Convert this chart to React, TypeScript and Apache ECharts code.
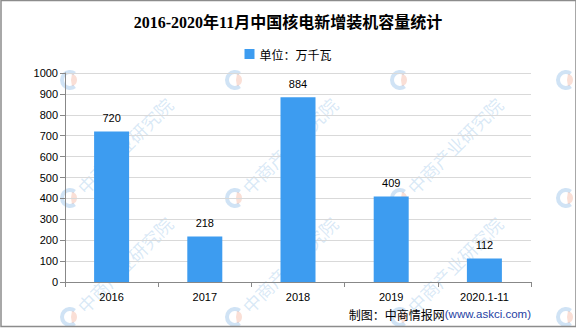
import React, { useEffect, useRef } from "react";
import * as echarts from "echarts";

const categories = ["2016", "2017", "2018", "2019", "2020.1-11"];
const values = [720, 218, 884, 409, 112];
const seriesName = "单位：万千瓦";
const titleText = "2016-2020年11月中国核电新增装机容量统计";
const yTicks = { min: 0, max: 1000, interval: 100 };
const logoCols = [70, 235, 400, 566];
const logoRows = [80, 198, 317];
const textCols = [70, 235, 400];
const textRows = [198, 317];
const watermarkText = "中商产业研究院";

export default function App() {
  const ref = useRef<HTMLDivElement>(null);
  useEffect(() => {
    if (!ref.current) return;
    const chart = echarts.init(ref.current, null, { renderer: "svg" });
    const marks: any[] = [];
    logoRows.forEach((wy) => {
      logoCols.forEach((wx) => {
        marks.push({
          type: "arc",
          shape: { cx: wx, cy: wy, r: 8, startAngle: Math.PI * 0.3, endAngle: Math.PI * 1.7 },
          style: { stroke: "rgba(120,175,225,0.35)", lineWidth: 4, fill: null },
          silent: true,
        });
        marks.push({
          type: "sector",
          shape: { cx: wx + 1, cy: wy, r: 6, r0: 0, startAngle: -Math.PI * 0.45, endAngle: Math.PI * 0.45 },
          style: { fill: "rgba(240,150,120,0.3)" },
          silent: true,
        });
      });
    });
    textRows.forEach((wy) => {
      textCols.forEach((wx) => {
        marks.push({
          type: "text",
          x: wx + 10,
          y: wy - 8,
          rotation: Math.PI / 4,
          silent: true,
          style: {
            text: watermarkText,
            fontSize: 18,
            fontFamily: "Noto Sans CJK SC",
            fill: "rgba(120,175,225,0.28)",
            align: "left",
            verticalAlign: "middle",
          },
        });
      });
    });
    chart.setOption({
      animation: false,
      backgroundColor: "#fff",
      title: {
        text: titleText,
        left: "center",
        top: 9,
        textStyle: {
          fontSize: 16,
          fontWeight: "bold",
          color: "#000",
          fontFamily: "'Liberation Serif', 'Noto Sans CJK SC', serif",
        },
      },
      legend: {
        data: [seriesName],
        top: 43,
        left: "center",
        icon: "rect",
        itemWidth: 10,
        itemHeight: 10,
        itemGap: 4,
        textStyle: { fontSize: 12, color: "#000", fontFamily: "'Noto Sans CJK SC', sans-serif" },
      },
      grid: { left: 65, right: 45, top: 73, bottom: 47, containLabel: false },
      xAxis: {
        type: "category",
        data: categories,
        axisLine: { lineStyle: { color: "#888" } },
        axisTick: { show: true, length: 5, lineStyle: { color: "#888" } },
        axisLabel: { color: "#000", fontSize: 11, margin: 9, fontFamily: "'Liberation Sans', sans-serif" },
      },
      yAxis: {
        type: "value",
        min: yTicks.min,
        max: yTicks.max,
        interval: yTicks.interval,
        axisLine: { show: true, lineStyle: { color: "#888" } },
        axisTick: { show: true, length: 5, lineStyle: { color: "#888" } },
        splitLine: { lineStyle: { color: "#d9d9d9" } },
        axisLabel: {
          color: "#000",
          fontSize: 11,
          margin: 7,
          fontFamily: "'Liberation Sans', sans-serif",
          formatter: (v: number) => String(v),
        },
      },
      series: [
        {
          name: seriesName,
          type: "bar",
          data: values,
          barWidth: 35,
          itemStyle: { color: "#3d9cf0" },
          label: {
            show: true,
            position: "top",
            distance: 8,
            fontSize: 11,
            color: "#000",
            fontFamily: "'Liberation Sans', sans-serif",
          },
        },
      ],
      graphic: [
        ...marks,
        {
          type: "rect",
          shape: { x: 1, y: 0.5, width: 575, height: 326 },
          style: { fill: null, stroke: "#8c8c8c", lineWidth: 1.5 },
          silent: true,
          z: 100,
        },
        {
          type: "text",
          right: 45,
          top: 308,
          z: 100,
          style: {
            text: "{a|制图：中商情报网}{b|(www.askci.com)}",
            rich: {
              a: { fontSize: 12, fill: "#000", fontFamily: "'Noto Sans CJK SC', sans-serif" },
              b: { fontSize: 11.5, fill: "#1f3fa3", fontFamily: "'Liberation Sans', sans-serif" },
            },
          },
        },
      ],
    });
    return () => chart.dispose();
  }, []);
  return <div ref={ref} style={{ width: 576, height: 329, position: "absolute", left: 0, top: 0 }} />;
}
